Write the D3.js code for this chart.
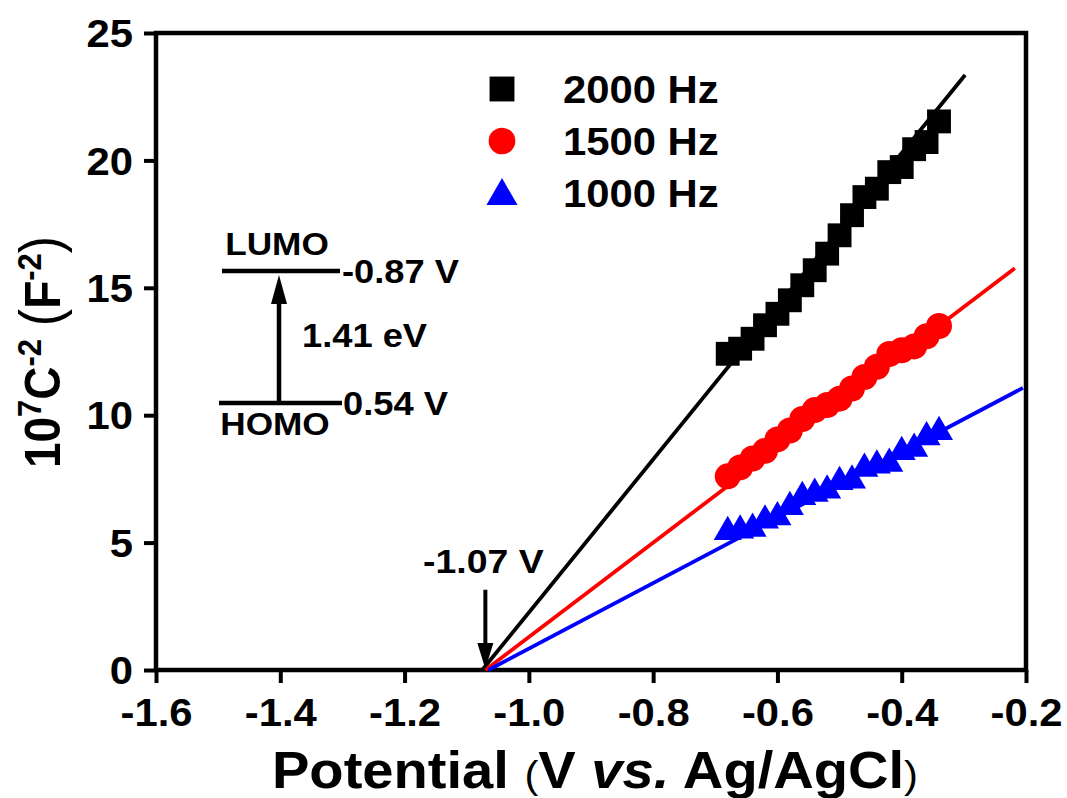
<!DOCTYPE html>
<html lang="en">
<head>
<meta charset="utf-8">
<title>Mott-Schottky plot</title>
<script src="https://d3js.org/d3.v7.min.js"></script>
<style>
  body { margin: 0; background: #fff; }
  text { font-family: "Liberation Sans", Arial, sans-serif; font-weight: bold; fill: #000; }
</style>
</head>
<body>
<script>
// measured potentials (V vs. Ag/AgCl), shared by the three frequencies
var potential = [-0.68, -0.66, -0.64, -0.62, -0.60, -0.58, -0.56, -0.54, -0.52,
                 -0.50, -0.48, -0.46, -0.44, -0.42, -0.40, -0.38, -0.36, -0.34];
// 10^7 C^-2 (F^-2)
var c2000 = [12.41, 12.61, 13.00, 13.53, 13.98, 14.51, 15.10, 15.69, 16.34,
             17.06, 17.85, 18.56, 18.89, 19.54, 19.74, 20.44, 20.72, 21.53];
var c1500 = [7.60, 7.95, 8.30, 8.60, 9.05, 9.40, 9.85, 10.20, 10.40,
             10.65, 11.05, 11.50, 11.90, 12.40, 12.55, 12.70, 13.10, 13.50];
var c1000 = [5.42, 5.48, 5.55, 5.87, 6.00, 6.40, 6.79, 6.92, 7.05,
             7.38, 7.44, 7.90, 8.03, 8.10, 8.56, 8.69, 9.14, 9.34];

var seriesNames = ["2000 Hz", "1500 Hz", "1000 Hz"];
var seriesColors = ["#000000", "#ff0000", "#0000ff"];
// linear fits: x-intercept, end potential, value at end
var fitX0 = [-1.075, -1.070, -1.065];
var fitX1 = [-0.298, -0.218, -0.205];
var fitY1 = [23.35, 15.77, 11.07];

var xTicks = [-1.6, -1.4, -1.2, -1.0, -0.8, -0.6, -0.4, -0.2];
var xTickLabels = ["-1.6", "-1.4", "-1.2", "-1.0", "-0.8", "-0.6", "-0.4", "-0.2"];
var xMinor = [-1.5, -1.3, -1.1, -0.9, -0.7, -0.5, -0.3];
var yTicks = [0, 5, 10, 15, 20, 25];
var yTickLabels = ["0", "5", "10", "15", "20", "25"];
var yMinor = [2.5, 7.5, 12.5, 17.5, 22.5];

var flatband = -1.07;
var lumo = "-0.87", homo = "0.54", gap = "1.41";

var width = 1067, height = 798;
var SX = 1.1;   // text is drawn a little wide

var svg = d3.select("body").append("svg")
    .attr("width", width)
    .attr("height", height);

var x = d3.scaleLinear().domain([-1.6, -0.2]).range([156, 1026]);
var y = d3.scaleLinear().domain([0, 25]).range([670, 33]);

function txt(px, py, s, size, anchor) {
  return svg.append("text")
      .attr("transform", "translate(" + px + "," + py + ") scale(" + SX + ",1)")
      .attr("font-size", size)
      .attr("text-anchor", anchor || "start")
      .text(s);
}

// ---- axes ----
var gx = svg.append("g").attr("transform", "translate(0," + y(0) + ")");
gx.call(d3.axisBottom(x).tickValues(xMinor).tickSize(7).tickSizeOuter(0).tickFormat(""));
gx.call(d3.axisBottom(x).tickValues(xTicks).tickSize(13).tickSizeOuter(0)
    .tickFormat(function(d, i) { return xTickLabels[i]; }));
gx.selectAll(".domain").remove();
gx.selectAll("line").attr("stroke", "#000").attr("stroke-width", 4);
gx.selectAll("text")
    .attr("font-size", 38)
    .attr("font-family", null)
    .attr("y", 56).attr("dy", 0)
    .attr("transform", "scale(" + SX + ",1)");

var gy = svg.append("g").attr("transform", "translate(" + x(-1.6) + ",0)");
gy.call(d3.axisLeft(y).tickValues(yMinor).tickSize(6).tickSizeOuter(0).tickFormat(""));
gy.call(d3.axisLeft(y).tickValues(yTicks).tickSize(12).tickSizeOuter(0)
    .tickFormat(function(d, i) { return yTickLabels[i]; }));
gy.selectAll(".domain").remove();
gy.selectAll("line").attr("stroke", "#000").attr("stroke-width", 4);
gy.selectAll("text")
    .attr("font-size", 38)
    .attr("font-family", null)
    .attr("x", -21).attr("dy", "0.36em")
    .attr("transform", "scale(" + SX + ",1)");

svg.append("rect")
    .attr("x", x(-1.6)).attr("y", y(25))
    .attr("width", x(-0.2) - x(-1.6)).attr("height", y(0) - y(25))
    .attr("fill", "none").attr("stroke", "#000").attr("stroke-width", 4.5);

// ---- series: fit line then points ----
var symbols = [d3.symbolSquare, d3.symbolCircle, d3.symbolTriangle];
var symSizes = [570, 530, 340];
var values = [c2000, c1500, c1000];

values.forEach(function(vals, k) {
  svg.append("line")
      .attr("x1", x(fitX0[k])).attr("y1", y(0))
      .attr("x2", x(fitX1[k])).attr("y2", y(fitY1[k]))
      .attr("stroke", seriesColors[k]).attr("stroke-width", 3.8);

  svg.append("g").selectAll("path")
      .data(potential.map(function(p, i) { return [p, vals[i]]; }))
      .enter().append("path")
      .attr("transform", function(d) { return "translate(" + x(d[0]) + "," + y(d[1]) + ")"; })
      .attr("d", d3.symbol().type(symbols[k]).size(symSizes[k]))
      .attr("fill", seriesColors[k]);
});

// ---- legend ----
var legSizes = [620, 560, 420];
seriesNames.forEach(function(name, k) {
  var ly = 89 + k * 52;
  svg.append("path")
      .attr("transform", "translate(502," + (ly + (k === 2 ? 3 : 0)) + ")")
      .attr("d", d3.symbol().type(symbols[k]).size(legSizes[k]))
      .attr("fill", seriesColors[k]);
  txt(563, ly + 14, name, 38);
});

// ---- flat-band arrow ----
function arrowDown(px, yTop, yTip) {
  svg.append("line").attr("x1", px).attr("x2", px)
      .attr("y1", yTop).attr("y2", yTip - 20)
      .attr("stroke", "#000").attr("stroke-width", 4);
  svg.append("path")
      .attr("d", "M" + (px - 8) + "," + (yTip - 26) + "L" + (px + 8) + "," + (yTip - 26) + "L" + px + "," + yTip + "Z")
      .attr("fill", "#000");
}
arrowDown(x(flatband), y(3.15), y(0) - 1);
txt(x(flatband) - 2, 573, flatband.toFixed(2) + " V", 34, "middle");

// ---- band diagram ----
var lumoY = 271, homoY = 403;
svg.append("line").attr("x1", 222).attr("x2", 340).attr("y1", lumoY).attr("y2", lumoY)
    .attr("stroke", "#000").attr("stroke-width", 4.5);
svg.append("line").attr("x1", 219).attr("x2", 342).attr("y1", homoY).attr("y2", homoY)
    .attr("stroke", "#000").attr("stroke-width", 4.5);
svg.append("line").attr("x1", 279).attr("x2", 279).attr("y1", homoY).attr("y2", lumoY + 26)
    .attr("stroke", "#000").attr("stroke-width", 4.5);
svg.append("path")
    .attr("d", "M271," + (lumoY + 33) + "L287," + (lumoY + 33) + "L279," + (lumoY + 4) + "Z")
    .attr("fill", "#000");
txt(277, 255, "LUMO", 32, "middle");
txt(275, 435, "HOMO", 32, "middle");
txt(342, 283, lumo + " V", 33);
txt(343, 415, homo + " V", 33);
txt(302, 347, gap + " eV", 33);

// ---- axis titles ----
var xt = svg.append("text")
    .attr("transform", "translate(595,788) scale(" + SX + ",1)")
    .attr("text-anchor", "middle")
    .attr("font-size", 51);
xt.append("tspan").text("Potential ");
xt.append("tspan").attr("font-size", 38).attr("font-weight", "normal").text("(");
xt.append("tspan").text("V ");
xt.append("tspan").attr("font-style", "italic").text("vs.");
xt.append("tspan").text(" Ag/AgCl");
xt.append("tspan").attr("font-size", 38).attr("font-weight", "normal").text(")");

var yt = svg.append("text")
    .attr("transform", "translate(60,352) scale(" + SX + ",1) rotate(-90)")
    .attr("text-anchor", "middle")
    .attr("font-size", 46);
yt.append("tspan").text("10");
yt.append("tspan").attr("font-size", 31).attr("dy", -17).text("7");
yt.append("tspan").attr("dy", 17).text("C");
yt.append("tspan").attr("font-size", 31).attr("dy", -17).text("-2");
yt.append("tspan").attr("dy", 17).text(" ");
yt.append("tspan").attr("font-size", 52).attr("font-weight", "normal").text("(");
yt.append("tspan").text("F");
yt.append("tspan").attr("font-size", 31).attr("dy", -17).text("-2");
yt.append("tspan").attr("dy", 17).attr("font-size", 52).attr("font-weight", "normal").text(")");
</script>
</body>
</html>
